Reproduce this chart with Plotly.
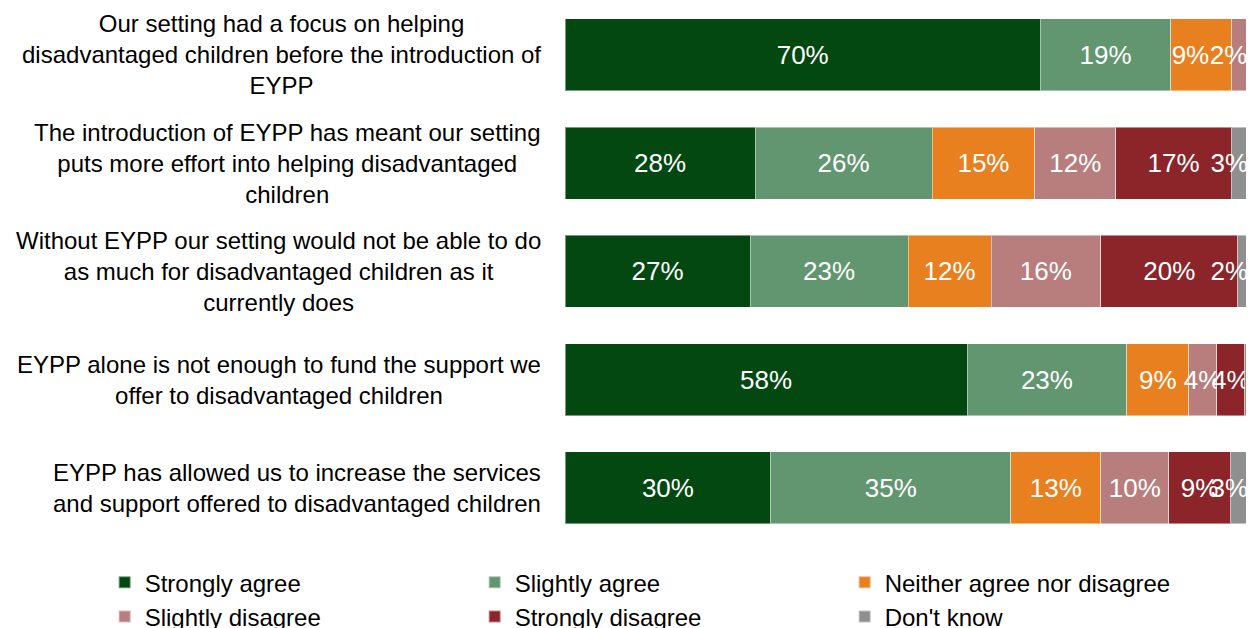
import plotly.graph_objects as go

categories = [
    "Our setting had a focus on helping<br>disadvantaged children before the introduction of<br>EYPP",
    "The introduction of EYPP has meant our setting<br>puts more effort into helping disadvantaged<br>children",
    "Without EYPP our setting would not be able to do<br>as much for disadvantaged children as it<br>currently does",
    "EYPP alone is not enough to fund the support we<br>offer to disadvantaged children",
    "EYPP has allowed us to increase the services<br>and support offered to disadvantaged children",
]

series_names = ["Strongly agree", "Slightly agree", "Neither agree nor disagree",
                "Slightly disagree", "Strongly disagree", "Don't know"]
colors = ["#034811", "#629670", "#E8801F", "#B87D7D", "#8B2529", "#8F8F8F"]

strongly_agree = [69.3, 27.7, 27.0, 58.6, 30.0]
slightly_agree = [19.0, 25.8, 23.0, 23.3, 35.0]
neither = [8.9, 15.0, 12.1, 9.0, 13.1]
slightly_disagree = [2.2, 11.8, 16.0, 4.1, 9.9]
strongly_disagree = [0.6, 16.8, 20.0, 4.1, 9.0]
dont_know = [0.0, 2.9, 1.9, 0.9, 3.0]

NB = "\u00a0"
labels_strongly_agree = ["70%", "28%", "27%", "58%", "30%"]
labels_slightly_agree = ["19%", "26%", "23%", "23%", "35%"]
labels_neither = ["9%" + NB * 3, "15%", "12%", "9%", "13%"]
labels_slightly_disagree = ["2%" + NB * 3, "12%", "16%", "4%", "10%"]
labels_strongly_disagree = ["", "17%", "20%", "4%", "9%"]
labels_dont_know = ["", "3%", "2%", "", "3%"]

values = [strongly_agree, slightly_agree, neither, slightly_disagree, strongly_disagree, dont_know]
labels = [labels_strongly_agree, labels_slightly_agree, labels_neither,
          labels_slightly_disagree, labels_strongly_disagree, labels_dont_know]
anchors = ["middle", "middle", "middle", "middle", "middle", "end"]

FONT = "Liberation Sans, Arial, sans-serif"

fig = go.Figure()
for name, col, vals, txt, anc in zip(series_names, colors, values, labels, anchors):
    fig.add_trace(go.Bar(
        y=categories, x=vals, name=name, orientation="h",
        marker=dict(color=col, line=dict(color="rgba(255,255,255,0.45)", width=1)),
        text=txt, textposition="inside", insidetextanchor=anc,
        textangle=0, constraintext="none", cliponaxis=False,
        textfont=dict(color="white", size=26, family=FONT),
        hoverinfo="skip",
    ))

for c in categories:
    fig.add_annotation(
        x=-0.032, xref="paper", y=c, yref="y", text=c, showarrow=False,
        xanchor="right", yanchor="middle", align="center",
        font=dict(size=24, color="#000000", family=FONT),
    )

fig.update_layout(
    width=1246, height=620,
    barmode="stack", bargap=0.335,
    margin=dict(l=557, r=3, t=0, b=86, autoexpand=False),
    plot_bgcolor="white", paper_bgcolor="white",
    xaxis=dict(range=[0, 100], visible=False, fixedrange=True),
    yaxis=dict(range=[4.499, -0.434], showticklabels=False, showgrid=False,
               zeroline=False, showline=False, ticks=""),
    showlegend=True,
    legend=dict(
        orientation="h", x=-0.671, xanchor="left", y=-0.034, yanchor="top",
        entrywidth=325, entrywidthmode="pixels", traceorder="normal",
        font=dict(size=24, color="#000000", family=FONT),
        itemsizing="constant", bgcolor="rgba(0,0,0,0)",
    ),
    font=dict(family=FONT),
)

fig.write_html("out.html")
